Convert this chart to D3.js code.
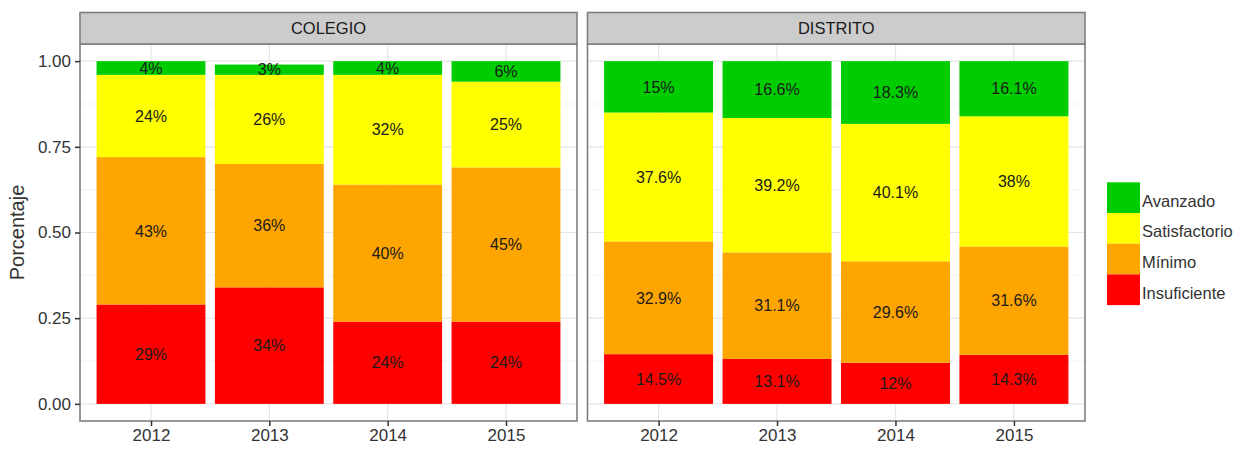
<!DOCTYPE html>
<html>
<head>
<meta charset="utf-8">
<script src="https://d3js.org/d3.v7.min.js"></script>
<style>
  body { margin: 0; background: #fff; }
  text { font-family: "Liberation Sans", Arial, Helvetica, sans-serif; }
</style>
</head>
<body>
<svg id="chart"></svg>
<script>
// Data
var years = ["2012", "2013", "2014", "2015"];
var panels = ["COLEGIO", "DISTRITO"];
var niveles = ["Insuficiente", "Mínimo", "Satisfactorio", "Avanzado"];   // bottom -> top
var colores = ["#FF0000", "#FFA500", "#FFFF00", "#00CD00"];

var colegioInsuficiente  = [29, 34, 24, 24];
var colegioMinimo        = [43, 36, 40, 45];
var colegioSatisfactorio = [24, 26, 32, 25];
var colegioAvanzado      = [4, 3, 4, 6];

var distritoInsuficiente  = [14.5, 13.1, 12, 14.3];
var distritoMinimo        = [32.9, 31.1, 29.6, 31.6];
var distritoSatisfactorio = [37.6, 39.2, 40.1, 38];
var distritoAvanzado      = [15, 16.6, 18.3, 16.1];

var yTicks = [0, 0.25, 0.5, 0.75, 1];
var yMinor = [0.125, 0.375, 0.625, 0.875];

// build rows for d3.stack
function rows(ins, min, sat, ava) {
  return years.map(function (y, i) {
    return { year: y, "Insuficiente": ins[i] / 100, "Mínimo": min[i] / 100,
             "Satisfactorio": sat[i] / 100, "Avanzado": ava[i] / 100 };
  });
}
var panelData = {
  "COLEGIO": rows(colegioInsuficiente, colegioMinimo, colegioSatisfactorio, colegioAvanzado),
  "DISTRITO": rows(distritoInsuficiente, distritoMinimo, distritoSatisfactorio, distritoAvanzado)
};

var width = 1242, height = 464;
var svg = d3.select("#chart").attr("width", width).attr("height", height);

var panelTop = 44, panelBottom = 421, stripTop = 12.5;
var panelX = { "COLEGIO": [80, 577], "DISTRITO": [587.5, 1085] };

var y = d3.scaleLinear().domain([-0.05, 1.05]).range([panelBottom, panelTop]);
var color = d3.scaleOrdinal().domain(niveles).range(colores);
var stack = d3.stack().keys(niveles);

panels.forEach(function (p, pi) {
  var x0 = panelX[p][0], x1 = panelX[p][1];
  var x = d3.scalePoint().domain(years).range([x0, x1]).padding(0.6);
  var bw = x.step() * 0.92;
  var g = svg.append("g");

  // panel background + grid
  g.append("rect").attr("x", x0).attr("y", panelTop).attr("width", x1 - x0)
    .attr("height", panelBottom - panelTop).attr("fill", "#fff");
  g.selectAll(".minor").data(yMinor).enter().append("line")
    .attr("x1", x0).attr("x2", x1).attr("y1", y).attr("y2", y)
    .attr("stroke", "#f7f7f7").attr("stroke-width", 1.5);
  g.selectAll(".major").data(yTicks).enter().append("line")
    .attr("x1", x0).attr("x2", x1).attr("y1", y).attr("y2", y)
    .attr("stroke", "#e5e5e5").attr("stroke-width", 1.2);
  g.selectAll(".vgrid").data(years).enter().append("line")
    .attr("x1", x).attr("x2", x).attr("y1", panelTop).attr("y2", panelBottom)
    .attr("stroke", "#e5e5e5").attr("stroke-width", 1.2);

  // bars
  var series = stack(panelData[p]);
  var layer = g.selectAll(".layer").data(series).enter().append("g")
    .attr("fill", function (d) { return color(d.key); });
  layer.selectAll("rect").data(function (d) { return d; }).enter().append("rect")
    .attr("x", function (d) { return x(d.data.year) - bw / 2; })
    .attr("width", bw)
    .attr("y", function (d) { return y(d[1]); })
    .attr("height", function (d) { return y(d[0]) - y(d[1]); });

  // value labels
  series.forEach(function (s) {
    g.selectAll(null).data(s).enter().append("text")
      .attr("x", function (d) { return x(d.data.year); })
      .attr("y", function (d) { return y((d[0] + d[1]) / 2); })
      .attr("dy", "0.36em")
      .attr("text-anchor", "middle")
      .attr("font-size", 16)
      .attr("fill", "#1a1a1a")
      .text(function (d) { return Math.round((d[1] - d[0]) * 1000) / 10 + "%"; });
  });

  // panel border
  g.append("rect").attr("x", x0).attr("y", panelTop).attr("width", x1 - x0)
    .attr("height", panelBottom - panelTop).attr("fill", "none")
    .attr("stroke", "#7f7f7f").attr("stroke-width", 1.6);

  // strip
  g.append("rect").attr("x", x0).attr("y", stripTop).attr("width", x1 - x0)
    .attr("height", panelTop - stripTop).attr("fill", "#cccccc")
    .attr("stroke", "#7f7f7f").attr("stroke-width", 1.6);
  g.append("text").attr("x", (x0 + x1) / 2).attr("y", (stripTop + panelTop) / 2)
    .attr("dy", "0.36em").attr("text-anchor", "middle")
    .attr("font-size", 16.5).attr("fill", "#1a1a1a").text(p);

  // x axis
  var xAxis = g.append("g").attr("transform", "translate(0," + panelBottom + ")")
    .call(d3.axisBottom(x).tickSize(5).tickPadding(3));
  xAxis.select(".domain").remove();
  xAxis.selectAll("line").attr("stroke", "#333").attr("stroke-width", 1.5);
  xAxis.selectAll("text").attr("font-size", 17).attr("fill", "#333")
    .style("font-family", "'Liberation Sans', Arial, sans-serif");

  // y axis on first panel
  if (pi === 0) {
    var yAxis = g.append("g").attr("transform", "translate(" + x0 + ",0)")
      .call(d3.axisLeft(y).tickValues(yTicks).tickFormat(d3.format(".2f")).tickSize(5).tickPadding(4));
    yAxis.select(".domain").remove();
    yAxis.selectAll("line").attr("stroke", "#333").attr("stroke-width", 1.5);
    yAxis.selectAll("text").attr("font-size", 17).attr("fill", "#333")
      .style("font-family", "'Liberation Sans', Arial, sans-serif");
  }
});

// y axis title
svg.append("text")
  .attr("transform", "translate(24," + (panelTop + panelBottom) / 2 + ") rotate(-90)")
  .attr("text-anchor", "middle").attr("font-size", 20).attr("fill", "#333")
  .text("Porcentaje");

// legend (top -> bottom: Avanzado ... Insuficiente)
var legendOrder = niveles.slice().reverse();
var keyH = 30.7, keyW = 33, legX = 1107, legY = 182.3;
var leg = svg.append("g");
leg.selectAll("rect").data(legendOrder).enter().append("rect")
  .attr("x", legX).attr("y", function (d, i) { return legY + i * keyH; })
  .attr("width", keyW).attr("height", keyH)
  .attr("fill", function (d) { return color(d); });
leg.selectAll("text").data(legendOrder).enter().append("text")
  .attr("x", legX + keyW + 2)
  .attr("y", function (d, i) { return legY + i * keyH + keyH / 2 + 3; })
  .attr("dy", "0.36em").attr("font-size", 16.5).attr("fill", "#333")
  .text(function (d) { return d; });
</script>
</body>
</html>
